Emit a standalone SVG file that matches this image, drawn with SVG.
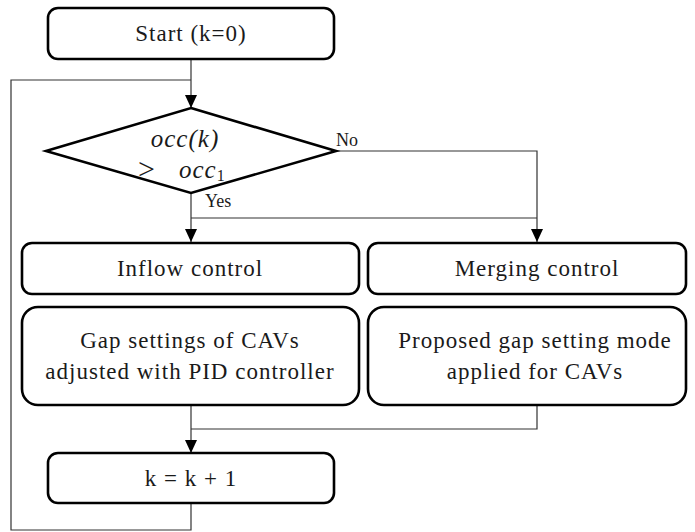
<svg xmlns="http://www.w3.org/2000/svg" width="695" height="532" viewBox="0 0 695 532">
<style>
.node{fill:#fff;stroke:#000;stroke-width:2.6}
.t{font-family:"Liberation Serif","Times New Roman",serif;font-size:23px;fill:#1a1a1a;text-anchor:middle;letter-spacing:1px}
.m{font-family:"Liberation Serif","Times New Roman",serif;font-size:25px;fill:#1a1a1a;font-style:italic;letter-spacing:1px}
.lbl{font-family:"Liberation Serif","Times New Roman",serif;font-size:18px;fill:#1a1a1a}
.c{fill:none;stroke:#333;stroke-width:1.2}
</style>
<defs>
<marker id="ah" markerWidth="13" markerHeight="12" refX="13" refY="6" orient="auto" markerUnits="userSpaceOnUse" viewBox="0 0 13 12">
<path d="M0,0 L13,6 L0,12 Z" fill="#000"/>
</marker>
</defs>
<g id="connectors">
<path class="c" d="M191,59 V108" marker-end="url(#ah)"/>
<path class="c" d="M191,503 V530 H11 V80 H191"/>
<path class="c" d="M336,151 H537 V242" marker-end="url(#ah)"/>
<path class="c" d="M191,193 V242" marker-end="url(#ah)"/>
<path class="c" d="M191,218 H537"/>
<path class="c" d="M191,405 V453" marker-end="url(#ah)"/>
<path class="c" d="M537,405 V429 H191"/>
<text class="lbl" x="336" y="146">No</text>
<text class="lbl" x="205" y="207">Yes</text>
</g>
<g id="start">
<rect class="node" x="48" y="8" width="286" height="51" rx="10"/>
<text class="t" x="191" y="41">Start (k=0)</text>
</g>
<g id="decision">
<polygon class="node" points="191,108 336,151 191,193 46,151"/>
<text class="m" x="185" y="147" text-anchor="middle">occ(k)</text>
<text class="m" x="138" y="179" style="font-style:normal;font-size:30px">&gt;</text>
<text class="m" x="179" y="178">occ<tspan font-size="16" dy="3" style="font-style:normal">1</tspan></text>
</g>
<g id="inflow">
<rect class="node" x="22" y="243" width="337" height="51" rx="10"/>
<text class="t" x="190" y="276">Inflow control</text>
</g>
<g id="merging">
<rect class="node" x="368" y="243" width="318" height="51" rx="10"/>
<text class="t" x="537" y="276">Merging control</text>
</g>
<g id="gap-pid">
<rect class="node" x="22" y="307" width="337" height="98" rx="16"/>
<text class="t" x="190" y="348">Gap settings of CAVs</text>
<text class="t" x="190" y="379">adjusted with PID controller</text>
</g>
<g id="gap-proposed">
<rect class="node" x="368" y="307" width="318" height="98" rx="16"/>
<text class="t" x="535" y="348">Proposed gap setting mode</text>
<text class="t" x="535" y="379">applied for CAVs</text>
</g>
<g id="increment">
<rect class="node" x="48" y="453" width="286" height="50" rx="10"/>
<text class="t" x="191" y="486">k = k + 1</text>
</g>
</svg>
